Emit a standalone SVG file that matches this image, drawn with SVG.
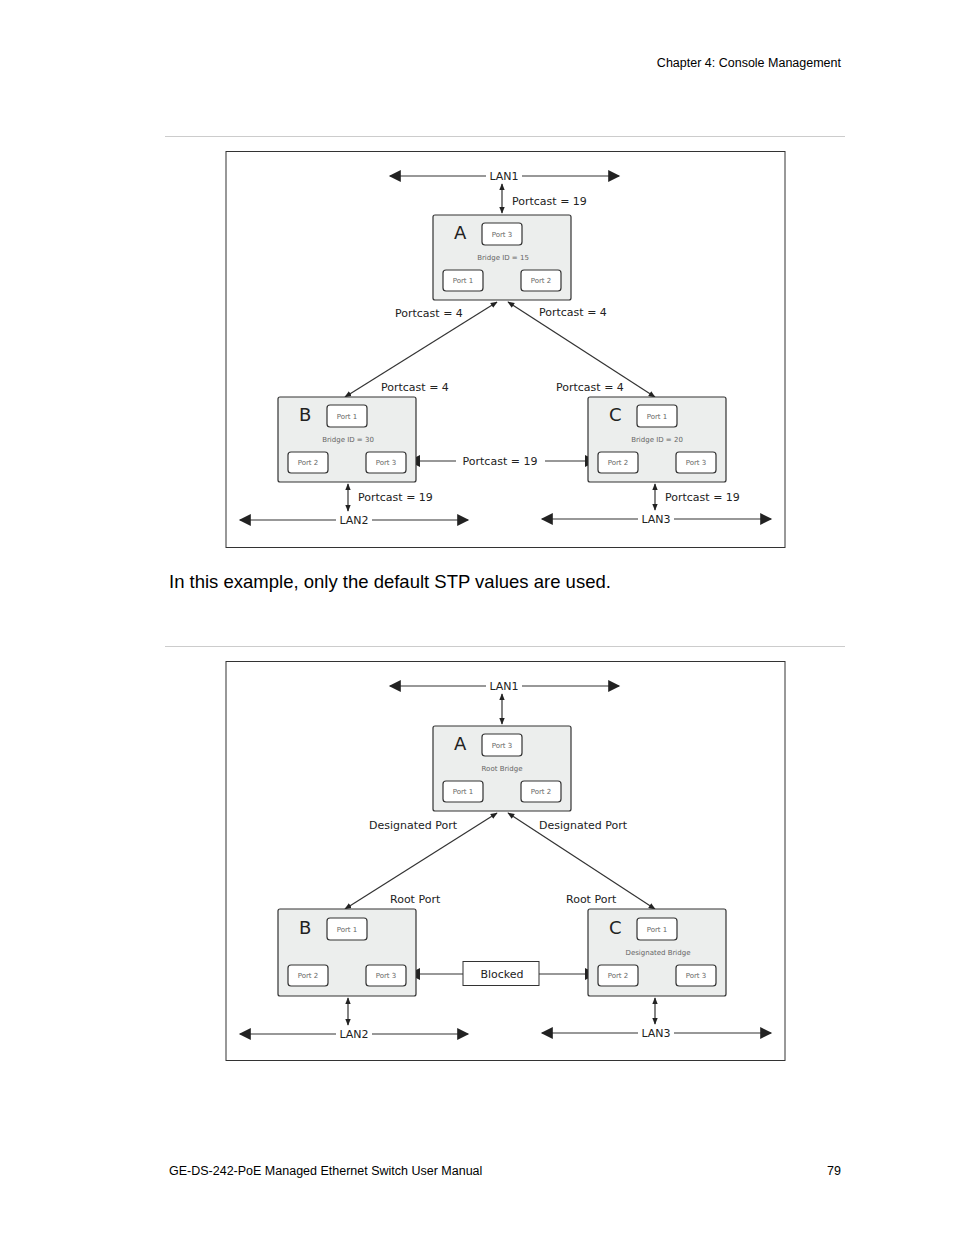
<svg xmlns="http://www.w3.org/2000/svg" width="954" height="1235" viewBox="0 0 954 1235">
<style>
.pg{font-family:"Liberation Sans",Arial,sans-serif;fill:#000}
.d{font-family:"DejaVu Sans",sans-serif;fill:#222;font-size:11px}
.s{font-family:"DejaVu Sans",sans-serif;fill:#666;font-size:7px}
.big{font-family:"DejaVu Sans",sans-serif;fill:#222;font-size:18px}
.node{fill:#eceeed;stroke:#333;stroke-width:1.2}
.port{fill:#fff;stroke:#333;stroke-width:1.2}
.ln{stroke:#333;stroke-width:1.2;fill:none}
.fr{fill:#fff;stroke:#333;stroke-width:1}
.hd{fill:#222}
</style>
<defs>
<marker id="ah" viewBox="0 0 10 10" refX="9" refY="5" markerWidth="7" markerHeight="7" orient="auto-start-reverse" markerUnits="userSpaceOnUse"><path d="M0,1 L10,5 L0,9 z" fill="#222"/></marker>
<marker id="big" viewBox="0 0 10 10" refX="9" refY="5" markerWidth="14" markerHeight="12" orient="auto-start-reverse" markerUnits="userSpaceOnUse"><path d="M0,0 L10,5 L0,10 z" fill="#222"/></marker>
</defs>
<rect width="954" height="1235" fill="#fff"/>
<text class="pg" x="841" y="67" font-size="12.5" text-anchor="end">Chapter 4: Console Management</text>
<line x1="165" y1="136.5" x2="845" y2="136.5" stroke="#ccc"/>
<line x1="165" y1="646.5" x2="845" y2="646.5" stroke="#ccc"/>
<text class="pg" x="169" y="588" font-size="18.5">In this example, only the default STP values are used.</text>
<text class="pg" x="169" y="1175" font-size="12.5">GE-DS-242-PoE Managed Ethernet Switch User Manual</text>
<text class="pg" x="841" y="1175" font-size="12.5" text-anchor="end">79</text>

<rect class="fr" x="226" y="151.5" width="559" height="396"/>
<rect class="fr" x="226" y="661.5" width="559" height="399"/>

<g id="connectors">
<line class="ln" x1="390" y1="176" x2="486" y2="176" marker-start="url(#big)"/>
<line class="ln" x1="522" y1="176" x2="619" y2="176" marker-end="url(#big)"/>
<line class="ln" x1="502" y1="184" x2="502" y2="213" marker-start="url(#ah)" marker-end="url(#ah)"/>
<line class="ln" x1="497" y1="302" x2="345" y2="397" marker-start="url(#ah)" marker-end="url(#ah)"/>
<line class="ln" x1="508" y1="302" x2="655" y2="397" marker-start="url(#ah)" marker-end="url(#ah)"/>
<line class="ln" x1="418" y1="461" x2="456" y2="461"/>
<polygon class="hd" points="408,461 420,455 420,467"/>
<line class="ln" x1="545" y1="461" x2="586" y2="461"/>
<polygon class="hd" points="597,461 585,455 585,467"/>
<line class="ln" x1="348" y1="484" x2="348" y2="511" marker-start="url(#ah)" marker-end="url(#ah)"/>
<line class="ln" x1="240" y1="520" x2="336" y2="520" marker-start="url(#big)"/>
<line class="ln" x1="372" y1="520" x2="468" y2="520" marker-end="url(#big)"/>
<line class="ln" x1="655" y1="484" x2="655" y2="510" marker-start="url(#ah)" marker-end="url(#ah)"/>
<line class="ln" x1="542" y1="519" x2="638" y2="519" marker-start="url(#big)"/>
<line class="ln" x1="674" y1="519" x2="771" y2="519" marker-end="url(#big)"/>

<line class="ln" x1="390" y1="686" x2="486" y2="686" marker-start="url(#big)"/>
<line class="ln" x1="522" y1="686" x2="619" y2="686" marker-end="url(#big)"/>
<line class="ln" x1="502" y1="694" x2="502" y2="724" marker-start="url(#ah)" marker-end="url(#ah)"/>
<line class="ln" x1="497" y1="813" x2="345" y2="909" marker-start="url(#ah)" marker-end="url(#ah)"/>
<line class="ln" x1="508" y1="813" x2="655" y2="909" marker-start="url(#ah)" marker-end="url(#ah)"/>
<line class="ln" x1="418" y1="974" x2="463" y2="974"/>
<polygon class="hd" points="408,974 420,968 420,980"/>
<line class="ln" x1="539" y1="974" x2="586" y2="974"/>
<polygon class="hd" points="597,974 585,968 585,980"/>
<line class="ln" x1="348" y1="998" x2="348" y2="1025" marker-start="url(#ah)" marker-end="url(#ah)"/>
<line class="ln" x1="240" y1="1034" x2="336" y2="1034" marker-start="url(#big)"/>
<line class="ln" x1="372" y1="1034" x2="468" y2="1034" marker-end="url(#big)"/>
<line class="ln" x1="655" y1="998" x2="655" y2="1024" marker-start="url(#ah)" marker-end="url(#ah)"/>
<line class="ln" x1="542" y1="1033" x2="638" y2="1033" marker-start="url(#big)"/>
<line class="ln" x1="674" y1="1033" x2="771" y2="1033" marker-end="url(#big)"/>
</g>

<g id="labels1">
<text class="d" x="504" y="180" text-anchor="middle">LAN1</text>
<text class="d" x="512" y="205">Portcast = 19</text>
<text class="d" x="395" y="317">Portcast = 4</text>
<text class="d" x="539" y="316">Portcast = 4</text>
<text class="d" x="381" y="391">Portcast = 4</text>
<text class="d" x="556" y="391">Portcast = 4</text>
<text class="d" x="500" y="465" text-anchor="middle">Portcast = 19</text>
<text class="d" x="358" y="501">Portcast = 19</text>
<text class="d" x="665" y="501">Portcast = 19</text>
<text class="d" x="354" y="524" text-anchor="middle">LAN2</text>
<text class="d" x="656" y="523" text-anchor="middle">LAN3</text>
</g>

<g id="nodeA1">
<rect class="node" x="433" y="215" width="138" height="85" rx="2"/>
<text class="big" x="454" y="239">A</text>
<rect class="port" x="482" y="223" width="40" height="22" rx="3"/><text class="s" x="502" y="237" text-anchor="middle">Port 3</text>
<text class="s" x="503" y="260" text-anchor="middle">Bridge ID = 15</text>
<rect class="port" x="443" y="270" width="40" height="21" rx="3"/><text class="s" x="463" y="283" text-anchor="middle">Port 1</text>
<rect class="port" x="521" y="270" width="40" height="21" rx="3"/><text class="s" x="541" y="283" text-anchor="middle">Port 2</text>
</g>
<g id="nodeB1">
<rect class="node" x="278" y="397" width="138" height="85" rx="2"/>
<text class="big" x="299" y="421">B</text>
<rect class="port" x="327" y="405" width="40" height="22" rx="3"/><text class="s" x="347" y="419" text-anchor="middle">Port 1</text>
<text class="s" x="348" y="442" text-anchor="middle">Bridge ID = 30</text>
<rect class="port" x="288" y="452" width="40" height="21" rx="3"/><text class="s" x="308" y="465" text-anchor="middle">Port 2</text>
<rect class="port" x="366" y="452" width="40" height="21" rx="3"/><text class="s" x="386" y="465" text-anchor="middle">Port 3</text>
</g>
<g id="nodeC1">
<rect class="node" x="588" y="397" width="138" height="85" rx="2"/>
<text class="big" x="609" y="421">C</text>
<rect class="port" x="637" y="405" width="40" height="22" rx="3"/><text class="s" x="657" y="419" text-anchor="middle">Port 1</text>
<text class="s" x="657" y="442" text-anchor="middle">Bridge ID = 20</text>
<rect class="port" x="598" y="452" width="40" height="21" rx="3"/><text class="s" x="618" y="465" text-anchor="middle">Port 2</text>
<rect class="port" x="676" y="452" width="40" height="21" rx="3"/><text class="s" x="696" y="465" text-anchor="middle">Port 3</text>
</g>

<g id="labels2">
<text class="d" x="504" y="690" text-anchor="middle">LAN1</text>
<text class="d" x="369" y="829">Designated Port</text>
<text class="d" x="539" y="829">Designated Port</text>
<text class="d" x="390" y="903">Root Port</text>
<text class="d" x="566" y="903">Root Port</text>
<text class="d" x="354" y="1038" text-anchor="middle">LAN2</text>
<text class="d" x="656" y="1037" text-anchor="middle">LAN3</text>
</g>
<g id="blocked">
<rect x="463" y="961.5" width="76" height="24" fill="#fff" stroke="#333" stroke-width="1"/>
<text class="d" x="502" y="978" text-anchor="middle">Blocked</text>
</g>
<g id="nodeA2">
<rect class="node" x="433" y="726" width="138" height="85" rx="2"/>
<text class="big" x="454" y="750">A</text>
<rect class="port" x="482" y="734" width="40" height="22" rx="3"/><text class="s" x="502" y="748" text-anchor="middle">Port 3</text>
<text class="s" x="502" y="771" text-anchor="middle">Root Bridge</text>
<rect class="port" x="443" y="781" width="40" height="21" rx="3"/><text class="s" x="463" y="794" text-anchor="middle">Port 1</text>
<rect class="port" x="521" y="781" width="40" height="21" rx="3"/><text class="s" x="541" y="794" text-anchor="middle">Port 2</text>
</g>
<g id="nodeB2">
<rect class="node" x="278" y="909" width="138" height="87" rx="2"/>
<text class="big" x="299" y="934">B</text>
<rect class="port" x="327" y="918" width="40" height="22" rx="3"/><text class="s" x="347" y="932" text-anchor="middle">Port 1</text>
<rect class="port" x="288" y="965" width="40" height="21" rx="3"/><text class="s" x="308" y="978" text-anchor="middle">Port 2</text>
<rect class="port" x="366" y="965" width="40" height="21" rx="3"/><text class="s" x="386" y="978" text-anchor="middle">Port 3</text>
</g>
<g id="nodeC2">
<rect class="node" x="588" y="909" width="138" height="87" rx="2"/>
<text class="big" x="609" y="934">C</text>
<rect class="port" x="637" y="918" width="40" height="22" rx="3"/><text class="s" x="657" y="932" text-anchor="middle">Port 1</text>
<text class="s" x="658" y="955" text-anchor="middle">Designated Bridge</text>
<rect class="port" x="598" y="965" width="40" height="21" rx="3"/><text class="s" x="618" y="978" text-anchor="middle">Port 2</text>
<rect class="port" x="676" y="965" width="40" height="21" rx="3"/><text class="s" x="696" y="978" text-anchor="middle">Port 3</text>
</g>
</svg>
